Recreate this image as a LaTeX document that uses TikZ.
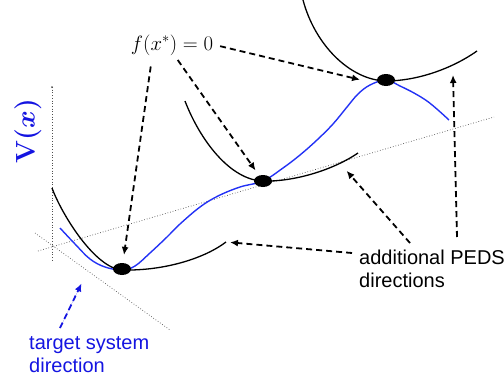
\documentclass[tikz,border=0pt]{standalone}
\usepackage{fontspec}
\setsansfont{Liberation Sans}
\usepackage{amsmath}
\usetikzlibrary{
  arrows.meta,
  positioning,
  calc,
  shapes.geometric
}
\definecolor{pedsBlue}{RGB}{20,20,225}
\definecolor{pedsCurve}{RGB}{35,50,245}
\definecolor{pedsGuide}{RGB}{80,80,80}
\tikzset{
  pedsdot/.style={
    ellipse,
    fill=black,
    inner sep=0pt,
    minimum width=18pt,
    minimum height=12pt
  },
  pedslabel/.style={
    font=\sffamily\fontsize{20}{23}\selectfont,
    align=left,
    inner sep=0pt
  },
  pedsmath/.style={
    font=\fontsize{20}{24}\selectfont,
    inner sep=2pt
  },
  pedscurve/.style={
    line width=1.3pt,
    draw=black
  },
  pedsvalley/.style={
    line width=1.4pt,
    draw=pedsCurve
  },
  pedsguide/.style={
    dotted,
    line width=0.7pt,
    draw=pedsGuide
  },
  pedsarrow/.style={
    -{Latex[length=8pt,width=7pt]},
    line width=1.8pt,
    dash pattern=on 6pt off 4pt
  }
}

\begin{document}
\begin{tikzpicture}[x=1pt,y=-1pt]
  \useasboundingbox (0,0) rectangle (504,381);

  \coordinate (vtop) at (52,87);
  \coordinate (vbot) at (52,262);
  \coordinate (xa) at (38,251);
  \coordinate (xb) at (494,117);
  \coordinate (ta) at (35,233);
  \coordinate (tb) at (170,330);
  \draw[pedsguide] (vtop) -- (vbot);
  \fill[pedsGuide] (vtop) circle (1);
  \draw[pedsguide] (xa) -- (xb);
  \draw[pedsguide] (ta) -- coordinate[pos=0.39] (tmid) (tb);

  \draw[pedscurve] (52,188) .. controls (62,215) and (95,268) .. (122,270)
    .. controls (165,271) and (205,258) .. (226,242) coordinate (lend);
  \draw[pedscurve] (185,101) .. controls (200,140) and (230,180) .. (263,181)
    .. controls (290,182) and (330,172) .. coordinate[pos=0.8] (mref) (358,153);
  \draw[pedscurve] (303,0) .. controls (315,45) and (350,80) .. (386,81)
    .. controls (415,81) and (450,70) .. coordinate[pos=0.72] (tref) (477,51);

  \draw[pedsvalley] plot[smooth, tension=0.6] coordinates {
    (60,228) (75,244) (90,259) (105,267) (122,270) (135,266) (150,253)
    (167,237) (180,224) (200,207) (218,196) (240,187) (263,181) (283,168)
    (300,155) (317,140) (333,124) (347,107) (358,94) (370,85) (386,80)
    (400,86) (414,93) (427,101) (438,110) (449,120)};

  \node[pedsdot] (dotA) at (122,269) {};
  \node[pedsdot] (dotB) at (263,181) {};
  \node[pedsdot] (dotC) at (386,80) {};

  \node[pedsmath] (fx) at (172,45) {$f(x^*) = 0$};
  \node[font=\fontsize{20}{24}\selectfont\boldmath, text=pedsBlue, rotate=90] (vx) at (28,131) {\scalebox{1.3}{$\mathbf{V}(x)$}};
  \node[pedslabel, anchor=north west] (peds) at (359,250) {additional PEDS\\directions};
  \node[pedslabel, anchor=north west, text=pedsBlue] (target) at (29,336) {target system\\direction};

  \draw[pedsarrow, shorten <=9pt, shorten >=8pt] ([xshift=-20pt]fx.south) -- (dotA);
  \draw[pedsarrow, shorten <=3pt, shorten >=6pt] ([xshift=4pt]fx.south) -- (dotB);
  \draw[pedsarrow, shorten <=5pt, shorten >=20pt] (fx.east) -- (dotC.south west);

  \draw[pedsarrow, shorten >=4pt] ([shift={(-7,3)}]peds.north west) -- (lend);
  \draw[pedsarrow, shorten >=10pt] ([shift={(51,-7)}]peds.north west) -- (mref);
  \draw[pedsarrow, shorten >=10pt] ([shift={(98,-13)}]peds.north west) -- (tref);

  \draw[pedsarrow, draw=pedsBlue, fill=pedsBlue, shorten >=14pt] ([shift={(31,-8)}]target.north west) -- (tmid);
\end{tikzpicture}
\end{document}
